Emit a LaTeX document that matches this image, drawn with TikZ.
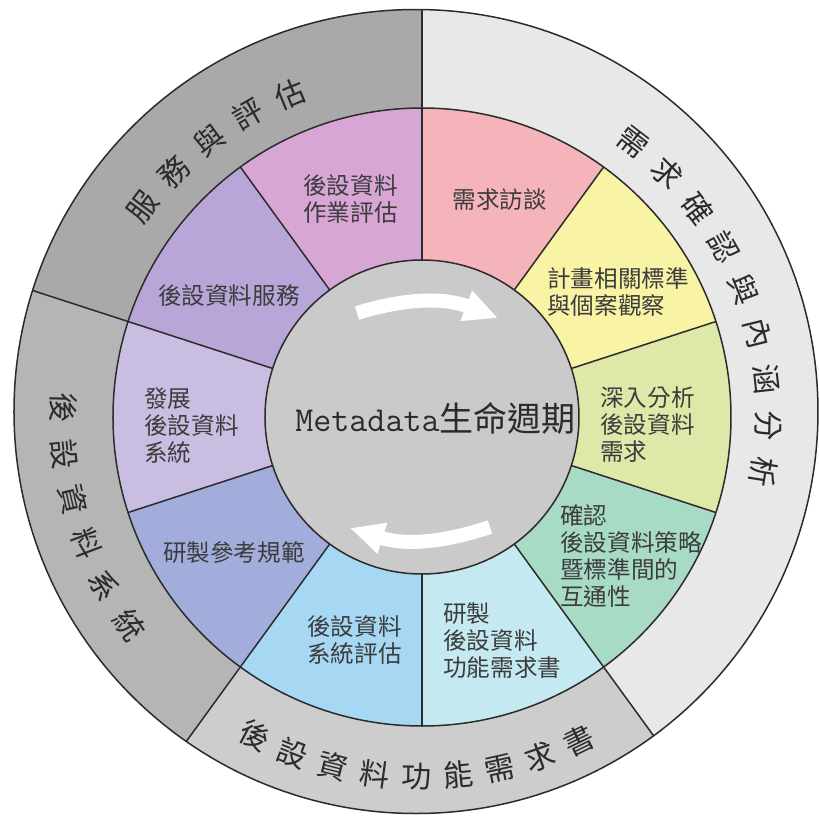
\documentclass[tikz,border=0pt]{standalone}
\usepackage{fontspec}
\newfontfamily\cjk{Noto Sans CJK TC}
\usetikzlibrary{arrows.meta}

\definecolor{ringA}{HTML}{A9A9A9}
\definecolor{ringB}{HTML}{B5B5B5}
\definecolor{ringC}{HTML}{CDCDCD}
\definecolor{ringD}{HTML}{E8E8E8}
\definecolor{centergray}{HTML}{CACACA}
\definecolor{segpink}{HTML}{F5B4BA}
\definecolor{segyellow}{HTML}{F9F3A5}
\definecolor{seglime}{HTML}{DDE8A9}
\definecolor{segmint}{HTML}{A8DBC6}
\definecolor{segcyan}{HTML}{C5E9F1}
\definecolor{segblue}{HTML}{A6D7F3}
\definecolor{segperi}{HTML}{A2ADDB}
\definecolor{seglav}{HTML}{C9BEE2}
\definecolor{segpurple}{HTML}{B8A6D8}
\definecolor{segorchid}{HTML}{D7A6D5}
\definecolor{linegray}{HTML}{2B2B2B}
\definecolor{textgray}{HTML}{3C3C3C}

\begin{document}
\begin{tikzpicture}[x=0.5pt, y=0.5pt,
                    segtext/.style={font=\cjk\fontsize{11.8}{13.5}\selectfont, text=textgray, align=left, inner sep=0pt},
                    ringtext/.style={font=\cjk\fontsize{15}{15}\selectfont, text=linegray, inner sep=0pt},
                    divider/.style={draw=linegray, line width=0.75pt},
                    cyclearrow/.style={draw=white, line width=7pt, -{Triangle[length=17pt, width=15pt]}},
                ]
                    \useasboundingbox (-422,-410) rectangle (397,417);

                    %Outer ring
                    \begin{scope}
                        \clip (-6,5.5) circle (402);
                        \foreach \a/\b/\col in {90/162/ringA, 162/234/ringB, 234/306/ringC, -54/90/ringD}
                            \fill[\col] (0,0) -- (\a:460) arc[start angle=\a, end angle=\b, radius=460] -- cycle;
                        \foreach \a in {90,162,234,306}
                            \draw[divider] (\a:309) -- (\a:460);
                    \end{scope}

                    %Sectors
                    \foreach \col [count=\i] in {segpink, segyellow, seglime, segmint, segcyan, segblue, segperi, seglav, segpurple, segorchid} {
                        \pgfmathsetmacro\a{90-(\i-1)*36}
                        \pgfmathsetmacro\b{\a-36}
                        \fill[\col] (0,0) -- (\a:309) arc[start angle=\a, end angle=\b, radius=309] -- cycle;
                    }

                    %Lines
                    \foreach \a in {90,54,...,-234}
                        \draw[divider] (\a:157) -- (\a:309);
                    \draw[divider] (-6,5.5) circle (402);
                    \draw[divider] (0,0) circle (309);
                    \draw[divider, fill=centergray] (0,0) circle (157);

                    %Nodes
                    \node[segtext] (interview) at (78,217) {需求訪談};
                    \node[segtext, anchor=west] (plan) at (125,125.5) {計畫相關標準\\與個案觀察};
                    \node[segtext, anchor=west] (analysis) at (178,-8) {深入分析\\後設資料\\需求};
                    \node[segtext, anchor=west] (strategy) at (138,-139) {確認\\後設資料策略\\暨標準間的\\互通性};
                    \node[segtext, anchor=west] (spec) at (21,-224) {研製\\後設資料\\功能需求書};
                    \node[segtext, anchor=west] (syseval) at (-115,-223.5) {後設資料\\系統評估};
                    \node[segtext] (refspec) at (-188,-135) {研製參考規範};
                    \node[segtext, anchor=west] (develop) at (-278,-9) {發展\\後設資料\\系統};
                    \node[segtext] (service) at (-193,121) {後設資料服務};
                    \node[segtext, anchor=west] (opeval) at (-119,218.5) {後設資料\\作業評估};

                    \node[text=linegray, inner sep=0pt] (lifecycle) at (13.5,-1)
                        {\ttfamily\fontsize{17.5}{18}\selectfont Metadata\cjk\fontsize{17}{18}\selectfont 生命週期};

                    %Ring labels
                    \foreach \ch [count=\i] in {服,務,與,評,估} {
                        \pgfmathsetmacro\ang{143-(\i-1)*7.7}
                        \node[ringtext, rotate=\ang-90] (serve\i) at (\ang:349) {\ch};
                    }
                    \foreach \ch [count=\i] in {需,求,確,認,與,內,涵,分,析} {
                        \pgfmathsetmacro\ang{52.5-(\i-1)*7.7}
                        \node[ringtext, rotate=\ang-90] (need\i) at (\ang:346) {\ch};
                    }
                    \foreach \ch [count=\i] in {後,設,資,料,系,統} {
                        \pgfmathsetmacro\ang{178.6+(\i-1)*7.36}
                        \node[ringtext, rotate=\ang+90] (system\i) at (\ang:359) {\ch};
                    }
                    \foreach \ch [count=\i] in {後,設,資,料,功,能,需,求,書} {
                        \pgfmathsetmacro\ang{242.3+(\i-1)*6.7}
                        \node[ringtext, rotate=\ang+90] (func\i) at (\ang:360) {\ch};
                    }

                    %Cycle arrows
                    \coordinate (topstart) at (-65,104);
                    \coordinate (topend) at (76,99);
                    \coordinate (botstart) at (68,-110);
                    \coordinate (botend) at (-72,-111);
                    \draw[cyclearrow] (topstart) to[bend left=19] (topend);
                    \draw[cyclearrow] (botstart) to[bend left=18] (botend);
                \end{tikzpicture}
\end{document}
